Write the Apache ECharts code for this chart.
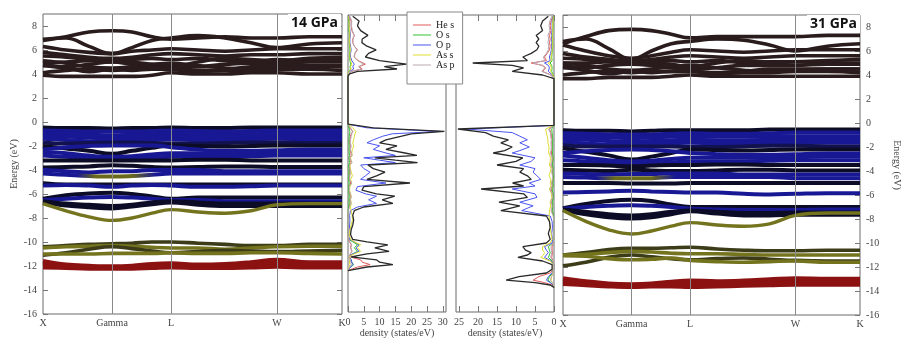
<!DOCTYPE html>
<html>
<head>
<meta charset="utf-8">
<script src="https://cdn.jsdelivr.net/npm/echarts@6/dist/echarts.min.js"></script>
<style>
  html, body { margin: 0; padding: 0; background: #fff; }
  #main { width: 901px; height: 338px; }
</style>
</head>
<body>
<div id="main"></div>
<script>
// k-path: high symmetry points and the sample points every band is given on
const kPos = [0, 0.69, 1.28, 2.34, 2.99]
const kLabels = ['X', 'Gamma', 'L', 'W', 'K']
const kGrid = [0, 0.23, 0.46, 0.69, 0.89, 1.09, 1.28, 1.55, 1.82, 2.08, 2.34, 2.66, 2.99]

// ---- 14 GPa bands (eV) ----
const cond14 = [
  [6.8, 7.1, 7.5, 7.6, 7.5, 7.1, 6.9, 7.0, 7.1, 7.0, 7.0, 7.1, 7.1],
  [6.9, 7.0, 6.3, 5.7, 6.2, 6.8, 7.0, 7.2, 7.0, 6.6, 6.2, 6.5, 6.6],
  [6.3, 6.0, 5.8, 5.7, 5.9, 6.0, 6.1, 6.0, 5.9, 6.0, 6.1, 6.1, 6.1],
  [5.8, 5.6, 5.4, 5.3, 5.4, 5.6, 5.7, 5.6, 5.5, 5.6, 5.6, 5.7, 5.7],
  [5.5, 5.4, 5.2, 5.0, 5.2, 5.3, 5.2, 5.3, 5.1, 5.0, 5.2, 5.1, 5.1],
  [4.9, 5.0, 5.1, 5.1, 5.0, 4.8, 4.6, 5.0, 5.3, 5.2, 5.1, 5.3, 5.4],
  [4.8, 4.6, 4.8, 5.0, 4.8, 4.6, 4.5, 4.6, 4.8, 4.9, 4.9, 5.0, 5.0],
  [5.1, 4.9, 4.6, 4.5, 4.6, 4.8, 4.9, 4.7, 4.5, 4.4, 4.5, 4.6, 4.6],
  [4.7, 4.5, 4.2, 4.4, 4.3, 4.4, 4.4, 4.3, 4.4, 4.6, 4.7, 4.7, 4.7],
  [4.1, 4.3, 4.4, 4.3, 4.4, 4.5, 4.4, 4.2, 4.3, 4.3, 4.4, 4.4, 4.3],
  [3.9, 3.8, 3.8, 3.8, 3.8, 3.9, 4.1, 4.0, 4.0, 4.1, 4.1, 4.0, 4.0]
]
const val14 = [
  [-0.45, -0.5, -0.5, -0.55, -0.5, -0.5, -0.45, -0.5, -0.5, -0.45, -0.45, -0.45, -0.45],
  [-0.7, -0.75, -0.8, -0.8, -0.8, -0.75, -0.7, -0.75, -0.8, -0.75, -0.7, -0.7, -0.7],
  [-0.9, -1.0, -1.05, -1.1, -1.05, -1.0, -0.95, -1.0, -1.0, -1.0, -0.95, -0.95, -0.95],
  [-1.15, -1.2, -1.3, -1.35, -1.3, -1.25, -1.2, -1.25, -1.25, -1.2, -1.2, -1.2, -1.2],
  [-1.4, -1.5, -1.6, -1.6, -1.55, -1.5, -1.45, -1.5, -1.5, -1.45, -1.4, -1.45, -1.45],
  [-1.7, -1.8, -1.75, -1.7, -1.7, -1.75, -1.8, -1.8, -1.75, -1.7, -1.7, -1.75, -1.75],
  [-2.0, -2.2, -2.4, -2.65, -2.4, -2.15, -1.95, -2.0, -2.05, -2.0, -1.95, -1.95, -1.95],
  [-2.3, -2.1, -2.0, -1.95, -1.95, -1.95, -2.1, -2.3, -2.4, -2.4, -2.35, -2.3, -2.3],
  [-2.5, -2.6, -2.8, -2.9, -2.85, -2.7, -2.6, -2.6, -2.6, -2.6, -2.55, -2.5, -2.5],
  [-2.8, -2.9, -3.0, -3.1, -3.05, -2.95, -2.9, -2.85, -2.9, -2.85, -2.8, -2.8, -2.8],
  [-3.2, -3.2, -3.2, -3.2, -3.2, -3.2, -3.2, -3.15, -3.15, -3.2, -3.2, -3.2, -3.2],
  [-3.8, -3.75, -3.7, -3.6, -3.65, -3.75, -3.8, -3.75, -3.7, -3.7, -3.75, -3.75, -3.75],
  [-4.0, -4.1, -4.2, -4.1, -4.1, -4.0, -4.0, -4.0, -4.1, -4.1, -4.1, -4.1, -4.1],
  [-4.3, -4.4, -4.5, -4.55, -4.5, -4.4, -4.3, -4.3, -4.3, -4.3, -4.3, -4.3, -4.3],
  [-5.1, -5.2, -5.2, -5.2, -5.2, -5.2, -5.2, -5.2, -5.2, -5.2, -5.2, -5.2, -5.2],
  [-5.3, -5.25, -5.3, -5.4, -5.3, -5.25, -5.3, -5.4, -5.4, -5.35, -5.3, -5.3, -5.3],
  [-6.4, -6.1, -5.95, -5.9, -6.0, -6.2, -6.4, -6.3, -6.3, -6.3, -6.3, -6.3, -6.3],
  [-6.5, -6.4, -6.3, -6.25, -6.3, -6.4, -6.5, -6.5, -6.6, -6.6, -6.6, -6.6, -6.6],
  [-6.6, -6.8, -6.9, -7.0, -6.9, -6.7, -6.6, -6.7, -6.8, -6.8, -6.8, -6.8, -6.8],
  [-6.7, -6.95, -7.1, -7.2, -7.05, -6.85, -6.7, -6.9, -7.0, -7.0, -7.0, -7.0, -7.0]
]
const asBand14 = [
  [-6.8, -7.4, -7.9, -8.2, -8.0, -7.6, -7.3, -7.5, -7.6, -7.4, -6.9, -6.8, -6.8]
]
const deep14 = [
  [-10.4, -10.3, -10.2, -10.15, -10.1, -10.0, -10.0, -10.1, -10.2, -10.3, -10.3, -10.2, -10.2],
  [-10.5, -10.4, -10.35, -10.3, -10.35, -10.45, -10.5, -10.5, -10.6, -10.5, -10.4, -10.35, -10.35],
  [-11.1, -10.9, -10.6, -10.4, -10.55, -10.75, -10.9, -10.8, -10.7, -10.75, -10.8, -10.75, -10.7],
  [-11.0, -11.0, -11.0, -10.95, -10.95, -10.95, -10.9, -10.95, -10.95, -10.9, -10.9, -10.95, -11.0]
]
const heBand14 = [
  [-11.6, -11.9, -12.0, -12.05, -12.0, -11.85, -11.8, -11.9, -11.85, -11.7, -11.5, -11.7, -11.7],
  [-11.8, -12.0, -12.1, -12.15, -12.1, -12.05, -12.0, -12.05, -12.0, -11.9, -11.8, -11.9, -11.9],
  [-12.1, -12.15, -12.2, -12.2, -12.2, -12.15, -12.1, -12.15, -12.15, -12.1, -12.05, -12.1, -12.1]
]

// ---- 31 GPa bands (eV) ----
const cond31 = [
  [6.6, 7.2, 7.7, 7.8, 7.7, 7.4, 7.1, 7.2, 7.2, 7.2, 7.2, 7.3, 7.3],
  [6.8, 7.0, 6.2, 5.3, 6.0, 6.6, 6.8, 7.0, 6.9, 6.5, 6.0, 6.4, 6.6],
  [6.5, 6.0, 5.6, 5.4, 5.6, 5.9, 6.1, 6.0, 5.9, 6.0, 6.1, 6.1, 6.1],
  [5.8, 5.5, 5.3, 5.2, 5.3, 5.5, 5.6, 5.5, 5.4, 5.5, 5.6, 5.6, 5.6],
  [5.4, 5.3, 5.1, 4.9, 5.1, 5.2, 5.1, 5.2, 5.0, 4.9, 5.1, 5.0, 5.0],
  [5.0, 5.0, 5.1, 5.1, 5.0, 4.9, 4.7, 5.0, 5.2, 5.1, 5.1, 5.2, 5.3],
  [4.8, 4.6, 4.8, 4.9, 4.8, 4.6, 4.5, 4.6, 4.8, 4.8, 4.8, 4.9, 4.9],
  [5.0, 4.8, 4.5, 4.4, 4.5, 4.7, 4.8, 4.6, 4.4, 4.3, 4.4, 4.5, 4.5],
  [4.6, 4.4, 4.1, 4.3, 4.2, 4.3, 4.3, 4.2, 4.3, 4.5, 4.5, 4.5, 4.5],
  [4.0, 4.2, 4.3, 4.2, 4.3, 4.3, 4.3, 4.1, 4.2, 4.2, 4.3, 4.3, 4.2],
  [3.7, 3.7, 3.8, 3.8, 3.8, 3.9, 4.0, 3.9, 3.9, 3.9, 3.9, 3.9, 3.9]
]
const val31 = [
  [-0.6, -0.65, -0.65, -0.7, -0.65, -0.6, -0.6, -0.6, -0.6, -0.55, -0.55, -0.55, -0.55],
  [-0.85, -0.9, -0.95, -0.95, -0.95, -0.9, -0.85, -0.9, -0.9, -0.85, -0.8, -0.8, -0.8],
  [-1.1, -1.15, -1.2, -1.25, -1.2, -1.15, -1.1, -1.15, -1.15, -1.1, -1.1, -1.1, -1.1],
  [-1.35, -1.4, -1.5, -1.55, -1.5, -1.45, -1.4, -1.45, -1.45, -1.4, -1.35, -1.4, -1.4],
  [-1.6, -1.7, -1.8, -1.8, -1.75, -1.7, -1.65, -1.7, -1.7, -1.65, -1.6, -1.65, -1.65],
  [-1.85, -1.95, -1.95, -1.95, -1.95, -1.95, -2.0, -2.0, -1.95, -1.9, -1.9, -1.95, -1.95],
  [-2.1, -2.4, -2.7, -3.05, -2.8, -2.5, -2.2, -2.25, -2.3, -2.25, -2.2, -2.2, -2.2],
  [-2.5, -2.35, -2.25, -2.2, -2.25, -2.35, -2.5, -2.6, -2.65, -2.65, -2.6, -2.55, -2.55],
  [-2.7, -2.9, -3.1, -3.2, -3.15, -3.0, -2.9, -2.9, -2.9, -2.9, -2.85, -2.8, -2.8],
  [-3.1, -3.2, -3.35, -3.45, -3.4, -3.3, -3.2, -3.2, -3.2, -3.15, -3.1, -3.1, -3.1],
  [-3.5, -3.5, -3.55, -3.6, -3.55, -3.5, -3.5, -3.45, -3.45, -3.5, -3.5, -3.5, -3.5],
  [-3.9, -3.95, -4.0, -3.9, -3.95, -4.0, -4.0, -3.95, -3.9, -3.9, -3.95, -3.95, -3.95],
  [-4.2, -4.25, -4.3, -4.25, -4.25, -4.2, -4.2, -4.2, -4.3, -4.3, -4.3, -4.3, -4.3],
  [-4.5, -4.55, -4.6, -4.6, -4.6, -4.5, -4.5, -4.5, -4.5, -4.5, -4.6, -4.6, -4.6],
  [-5.0, -5.0, -5.0, -5.05, -5.05, -5.05, -5.0, -5.0, -5.0, -5.0, -5.0, -5.0, -5.0],
  [-5.8, -5.75, -5.7, -5.65, -5.7, -5.75, -5.8, -5.8, -5.9, -5.95, -5.9, -5.85, -5.85],
  [-7.1, -6.75, -6.5, -6.4, -6.5, -6.8, -7.0, -7.0, -7.0, -7.0, -7.0, -7.0, -7.0],
  [-7.15, -7.0, -6.9, -6.85, -6.9, -7.0, -7.15, -7.2, -7.25, -7.25, -7.25, -7.2, -7.2],
  [-7.2, -7.4, -7.6, -7.7, -7.6, -7.4, -7.3, -7.4, -7.5, -7.5, -7.45, -7.45, -7.45],
  [-7.25, -7.6, -7.85, -7.95, -7.85, -7.6, -7.35, -7.55, -7.7, -7.7, -7.65, -7.65, -7.65]
]
const asBand31 = [
  [-7.3, -8.2, -8.9, -9.25, -9.0, -8.6, -8.3, -8.5, -8.6, -8.4, -7.7, -7.5, -7.5]
]
const deep31 = [
  [-11.0, -10.8, -10.55, -10.45, -10.45, -10.4, -10.35, -10.5, -10.6, -10.65, -10.65, -10.6, -10.6],
  [-11.0, -10.95, -10.8, -10.7, -10.75, -10.85, -10.9, -10.9, -10.95, -11.0, -11.0, -11.0, -11.0],
  [-11.9, -11.6, -11.2, -11.0, -11.15, -11.3, -11.4, -11.3, -11.25, -11.35, -11.45, -11.5, -11.5],
  [-11.05, -11.1, -11.3, -11.4, -11.35, -11.25, -11.45, -11.55, -11.6, -11.55, -11.5, -11.6, -11.6]
]
const heBand31 = [
  [-12.95, -13.2, -13.4, -13.45, -13.4, -13.25, -13.15, -13.2, -13.15, -13.05, -12.95, -13.0, -13.0],
  [-13.2, -13.4, -13.55, -13.6, -13.55, -13.5, -13.5, -13.45, -13.4, -13.3, -13.2, -13.3, -13.3],
  [-13.4, -13.5, -13.6, -13.65, -13.6, -13.6, -13.65, -13.6, -13.55, -13.5, -13.45, -13.45, -13.45]
]

// ---- DOS, 14 GPa (states/eV) ----
const dosE14 = [8.8, 8.4, 8.0, 7.6, 7.2, 6.9, 6.6, 6.3, 6.0, 5.7, 5.4, 5.1, 4.8, 4.6, 4.4, 4.2, 4.0, 3.8,
  -0.2, -0.5, -0.8, -1.0, -1.2, -1.5, -1.75, -2.0, -2.3, -2.6, -2.8, -3.0, -3.2, -3.4, -3.6, -3.9, -4.2, -4.5,
  -4.8, -5.1, -5.4, -5.7, -6.0, -6.2, -6.5, -6.8, -7.1, -7.4, -7.8, -8.2, -8.6, -9.0, -9.4, -9.8,
  -10.0, -10.25, -10.5, -10.8, -11.0, -11.25, -11.5, -11.7, -11.9, -12.1, -12.4]
const total14 = [1.5, 3.5, 3, 4, 6.3, 4.5, 4.4, 6, 8.9, 6.5, 5.5, 10, 18.5, 11.5, 15.5, 3, 0.5, 0,
  0, 8, 30.5, 20, 17, 12, 10, 15.5, 12, 18, 21.8, 8.5, 15, 22, 6.3, 8, 11.7, 9,
  6, 19.6, 5, 4.4, 9, 14.8, 10.8, 14.2, 5, 2, 1.5, 1.8, 1.5, 1, 0.8, 1.5,
  6, 12.6, 8.5, 13, 6, 1, 9, 10, 14.2, 6, 0]
const heS14 = [0.3, 1, 1, 1.2, 2, 1.5, 1.5, 2, 3, 2.2, 2, 3.2, 5.5, 3.5, 4.5, 1, 0.2, 0,
  0, 0.5, 1.5, 1, 0.8, 0.6, 0.5, 0.8, 0.6, 0.9, 1, 0.5, 0.7, 1, 0.4, 0.5, 0.6, 0.5,
  0.4, 0.9, 0.3, 0.3, 0.5, 0.8, 0.6, 0.7, 0.3, 0.1, 0.1, 0.1, 0.1, 0.1, 0.1, 0.1,
  0.5, 1, 0.8, 1.2, 0.8, 0.5, 4, 4.5, 7, 3, 0]
const oS14 = [0.1, 0.3, 0.3, 0.3, 0.5, 0.4, 0.4, 0.5, 0.6, 0.5, 0.5, 0.6, 0.9, 0.6, 0.8, 0.2, 0.1, 0,
  0, 0.3, 0.6, 0.5, 0.4, 0.3, 0.3, 0.4, 0.3, 0.4, 0.5, 0.3, 0.4, 0.5, 0.2, 0.3, 0.3, 0.3,
  0.2, 0.4, 0.2, 0.2, 0.3, 0.4, 0.3, 0.4, 0.2, 0.1, 0.1, 0.1, 0.1, 0.1, 0.1, 0.2,
  1.5, 3, 2, 3, 1.5, 0.3, 1, 1.2, 1.8, 0.8, 0]
const oP14 = [0.3, 0.5, 0.5, 0.6, 0.8, 0.6, 0.6, 0.8, 1, 0.8, 0.8, 1.2, 2, 1.5, 1.8, 0.5, 0.1, 0,
  0, 6, 29, 14, 11, 8, 6, 10, 8, 12, 15, 5, 10, 15, 4, 5, 7, 5.5,
  4, 12, 3, 2.5, 5.5, 9, 6.5, 9, 3, 0.8, 0.5, 0.6, 0.5, 0.4, 0.3, 0.5,
  2, 3.5, 2.5, 3.5, 1.5, 0.3, 1, 1.2, 1.5, 0.8, 0]
const asS14 = [0.2, 0.4, 0.4, 0.5, 0.6, 0.5, 0.5, 0.6, 0.8, 0.6, 0.6, 0.8, 1.2, 0.8, 1, 0.3, 0.1, 0,
  0, 1.5, 2.5, 2.2, 2, 1.8, 1.5, 1.8, 1.4, 1.2, 1.3, 0.8, 1, 1.2, 0.6, 0.8, 1, 1.4,
  0.8, 1.2, 0.6, 0.5, 0.8, 1, 0.8, 1, 0.8, 1, 1.3, 1.4, 1, 0.6, 0.4, 0.8,
  2, 4, 3, 4, 2, 0.3, 0.5, 0.5, 0.6, 0.3, 0]
const asP14 = [0.6, 1.2, 1.1, 1.4, 2, 1.6, 1.5, 2, 2.8, 2.1, 1.9, 3, 5, 3.3, 4.2, 1, 0.2, 0,
  0, 0.8, 1.5, 1.2, 1, 0.8, 0.7, 1, 0.8, 1.1, 1.3, 0.6, 0.9, 1.3, 0.5, 0.6, 0.8, 0.6,
  0.5, 1.2, 0.4, 0.4, 0.7, 1, 0.8, 1, 0.4, 0.2, 0.2, 0.2, 0.2, 0.1, 0.1, 0.2,
  0.6, 1.2, 0.9, 1.3, 0.7, 0.2, 0.7, 0.8, 1.1, 0.5, 0]

// ---- DOS, 31 GPa (states/eV) ----
const dosE31 = [8.8, 8.4, 8.0, 7.6, 7.2, 6.9, 6.6, 6.3, 6.0, 5.7, 5.4, 5.1, 4.9, 4.7, 4.5, 4.2, 3.9, 3.6,
  -0.3, -0.6, -0.9, -1.2, -1.5, -1.75, -2.1, -2.4, -2.6, -3.0, -3.3, -3.6, -3.9, -4.2, -4.5, -4.8,
  -5.1, -5.35, -5.6, -6.0, -6.3, -6.7, -7.0, -7.4, -7.85, -8.3, -8.8, -9.3, -9.8,
  -10.1, -10.4, -10.7, -10.9, -11.1, -11.3, -11.6, -11.9, -12.3, -12.6, -12.9, -13.2, -13.4, -13.6, -13.8]
const total31 = [1.5, 3, 3.5, 3, 4.7, 4, 4.7, 4, 4.5, 6, 8.2, 7, 21.4, 11, 8, 11, 3, 0,
  0, 25.3, 18, 16, 12, 14, 11, 13, 16, 8.2, 10, 15, 8, 9, 7, 6,
  10.9, 8, 19.2, 8, 7, 14.5, 9, 14, 2, 1.2, 1, 1.5, 1,
  2, 8.2, 7.5, 6, 7, 9.5, 3, 0.5, 0.5, 2, 9.2, 12.6, 5, 1, 0]
const heS31 = [0.3, 0.8, 1, 0.8, 1.2, 1, 1.2, 1, 1.2, 1.8, 2.5, 2, 6, 3, 2.2, 3, 0.8, 0,
  0, 1.2, 0.8, 0.7, 0.5, 0.6, 0.5, 0.6, 0.7, 0.4, 0.4, 0.6, 0.4, 0.4, 0.3, 0.3,
  0.5, 0.4, 0.8, 0.4, 0.3, 0.6, 0.4, 0.6, 0.1, 0.1, 0.1, 0.1, 0.1,
  0.2, 0.5, 0.5, 0.4, 0.5, 0.6, 0.3, 0.1, 0.1, 1, 4, 5.5, 2.5, 0.5, 0]
const oS31 = [0.1, 0.3, 0.3, 0.3, 0.4, 0.3, 0.4, 0.3, 0.4, 0.5, 0.6, 0.5, 1, 0.6, 0.5, 0.6, 0.2, 0,
  0, 0.6, 0.5, 0.4, 0.3, 0.4, 0.3, 0.4, 0.4, 0.2, 0.3, 0.4, 0.2, 0.3, 0.2, 0.2,
  0.3, 0.2, 0.5, 0.2, 0.2, 0.4, 0.3, 0.4, 0.1, 0.1, 0.1, 0.1, 0.1,
  0.3, 1.5, 1.2, 1, 1.2, 1.5, 0.5, 0.1, 0.1, 0.3, 1.2, 1.6, 0.8, 0.2, 0]
const oP31 = [0.3, 0.5, 0.5, 0.5, 0.7, 0.6, 0.7, 0.6, 0.7, 0.9, 1.2, 1, 2.5, 1.5, 1.2, 1.5, 0.4, 0,
  0, 23, 11, 9, 7, 9, 6.5, 9, 11, 5, 6, 9, 5, 5.5, 4.5, 3.5,
  6.5, 5, 11, 5, 4.5, 9, 5.5, 8.5, 1, 0.5, 0.4, 0.6, 0.4,
  0.5, 2.5, 2, 1.5, 2, 2.5, 0.8, 0.1, 0.1, 0.5, 1.5, 2, 1, 0.2, 0]
const asS31 = [0.2, 0.3, 0.4, 0.3, 0.5, 0.4, 0.5, 0.4, 0.5, 0.6, 0.8, 0.7, 1.5, 0.9, 0.7, 0.9, 0.3, 0,
  0, 2.2, 2, 1.8, 1.6, 1.6, 1.3, 1.4, 1.4, 0.9, 1, 1.2, 0.8, 1, 1.3, 0.8,
  1, 0.8, 1.2, 0.7, 0.6, 1, 0.9, 1.2, 1.3, 1.2, 1, 0.8, 0.5,
  1, 3, 3, 2.5, 2.8, 3.5, 1, 0.2, 0.2, 0.3, 0.6, 0.8, 0.4, 0.1, 0]
const asP31 = [0.6, 1.1, 1.3, 1.1, 1.6, 1.4, 1.6, 1.4, 1.5, 2, 2.8, 2.4, 5.5, 3.2, 2.4, 3.2, 0.8, 0,
  0, 1.4, 1, 0.9, 0.7, 0.8, 0.7, 0.8, 1, 0.5, 0.6, 0.9, 0.5, 0.6, 0.4, 0.4,
  0.7, 0.5, 1.1, 0.5, 0.4, 0.9, 0.5, 0.8, 0.2, 0.1, 0.1, 0.1, 0.1,
  0.2, 0.8, 0.7, 0.6, 0.7, 0.9, 0.3, 0.1, 0.1, 0.2, 0.7, 1, 0.4, 0.1, 0]

const dosNames = ['He s', 'O s', 'O p', 'As s', 'As p']

// ---- styling ----
const COND = '#2a1c1c'
const NAVY = '#181894'
const DARK = '#0c0c26'
const OLIVE = '#74741e'
const DOLIVE = '#3c3c18'
const RED = '#8c1212'
// olive only around Gamma, blue elsewhere (gradient along k)
const GAMMA_OLIVE = new echarts.graphic.LinearGradient(0, 0, 1, 0, [
  { offset: 0, color: NAVY }, { offset: 0.12, color: NAVY },
  { offset: 0.18, color: '#6a6a1c' }, { offset: 0.3, color: '#6a6a1c' },
  { offset: 0.38, color: NAVY }, { offset: 1, color: NAVY }
])
const valColors = [DARK, NAVY, NAVY, NAVY, NAVY, '#121250', DARK, NAVY, NAVY, NAVY,
  DARK, DARK, NAVY, GAMMA_OLIVE, DARK, NAVY, DARK, NAVY, DARK, DARK]
const deepColors = [DOLIVE, OLIVE, DOLIVE, OLIVE]
const dosColors = { 'He s': '#e05a5a', 'O s': '#2fc42f', 'O p': '#4a55f0', 'As s': '#e0dc30', 'As p': '#b8a8b0' }
const FONT = 'Liberation Serif'

const bandSeries = (bands, colors, xi, yi, width) => bands.map((b, i) => ({
  type: 'line',
  xAxisIndex: xi,
  yAxisIndex: yi,
  data: kGrid.map((k, j) => [k, b[j]]),
  smooth: 0.4,
  showSymbol: false,
  silent: true,
  lineStyle: { color: Array.isArray(colors) ? colors[i % colors.length] : colors, width: width }
}))

const panelSeries = (cond, val, asb, deep, heb, xi, yi) => {
  const s = [{
    type: 'line', xAxisIndex: xi, yAxisIndex: yi, data: [], silent: true,
    markLine: {
      silent: true, symbol: 'none', label: { show: false },
      lineStyle: { color: '#8a8a8a', width: 1, type: 'solid' },
      data: kPos.slice(1, 4).map(k => ({ xAxis: k }))
    }
  }]
  return s.concat(
    bandSeries(cond, COND, xi, yi, 3.6),
    bandSeries(val, valColors, xi, yi, 4),
    bandSeries(asb, OLIVE, xi, yi, 3.4),
    bandSeries(deep, deepColors, xi, yi, 3.6),
    bandSeries(heb, RED, xi, yi, 4.5)
  )
}

const dosSeries = (E, comps, total, xi, yi) => {
  const out = comps.map((vals, i) => ({
    name: dosNames[i],
    type: 'line', xAxisIndex: xi, yAxisIndex: yi,
    data: E.map((e, j) => [vals[j], e]),
    showSymbol: false, silent: true,
    color: dosColors[dosNames[i]],
    itemStyle: { color: dosColors[dosNames[i]] },
    lineStyle: { color: dosColors[dosNames[i]], width: 1 }
  }))
  out.push({
    name: 'Total',
    type: 'line', xAxisIndex: xi, yAxisIndex: yi,
    data: E.map((e, j) => [total[j], e]),
    showSymbol: false, silent: true,
    lineStyle: { color: '#2a2a2a', width: 1.3 }
  })
  return out
}

const labelStyle = { fontFamily: FONT, fontSize: 10, color: '#444' }
const kLabelAt = v => {
  let best = 0
  kPos.forEach((p, i) => { if (Math.abs(p - v) < Math.abs(kPos[best] - v)) best = i })
  return kLabels[best]
}
const kAxis = grid => ({
  type: 'value', gridIndex: grid, position: 'bottom', min: 0, max: 2.99,
  axisLine: { show: false, onZero: false }, axisTick: { show: false }, splitLine: { show: false },
  axisLabel: { ...labelStyle, margin: 4, customValues: kPos, formatter: kLabelAt }
})
const eAxis = (grid, pos, labels, ticks) => ({
  type: 'value', gridIndex: grid, position: pos, min: -16, max: 9, interval: 2,
  axisLine: { show: false, onZero: false }, splitLine: { show: false },
  axisTick: { show: ticks, inside: true, length: 5, lineStyle: { color: '#777' } },
  axisLabel: { show: labels, ...labelStyle, margin: 6, showMaxLabel: false },
  nameMoveOverlap: false
})
const dosE = grid => ({
  type: 'value', gridIndex: grid, min: -15.85, max: 8.9,
  axisLine: { show: false, onZero: false }, axisTick: { show: false }, axisLabel: { show: false }, splitLine: { show: false }
})
const dosX = (grid, pos, max, inverse, labels) => ({
  type: 'value', gridIndex: grid, position: pos, min: 0, max: max, interval: 5, inverse: inverse,
  axisLine: { show: false, onZero: false }, splitLine: { show: false },
  axisTick: { show: true, inside: true, length: 6, lineStyle: { color: '#777' } },
  axisLabel: { show: labels, ...labelStyle, margin: 5, showMaxLabel: false },
  name: labels ? 'density (states/eV)' : '',
  nameLocation: 'middle', nameGap: 16, nameMoveOverlap: false, nameTextStyle: labelStyle
})

const chart = echarts.init(document.getElementById('main'), null, { renderer: 'canvas' })
const box = { show: true, borderColor: '#6a6a6a', borderWidth: 1, backgroundColor: 'transparent', outerBoundsMode: 'none', containLabel: false }

chart.setOption({
  animation: false,
  backgroundColor: '#fff',
  title: [
    { text: '14 GPa', left: 288, top: 14, padding: [2, 3], backgroundColor: '#fff',
      textStyle: { fontFamily: 'Open Sans', fontWeight: 'bold', fontSize: 14, color: '#111' } },
    { text: '31 GPa', left: 807, top: 15, padding: [2, 3], backgroundColor: '#fff',
      textStyle: { fontFamily: 'Open Sans', fontWeight: 'bold', fontSize: 14, color: '#111' } }
  ],
  legend: {
    data: dosNames.map(n => ({ name: n, itemStyle: { color: dosColors[n] } })),
    orient: 'vertical', left: 407, top: 12,
    icon: 'rect', itemWidth: 18, itemHeight: 1, itemGap: 0,
    padding: [8, 8, 14, 6], backgroundColor: '#fff', borderColor: '#888', borderWidth: 1,
    textStyle: { fontFamily: FONT, fontSize: 10, lineHeight: 9.5, color: '#222' },
    selectedMode: false
  },
  grid: [
    { left: 43, top: 14, width: 299, height: 300, ...box },
    { left: 348, top: 15, width: 98, height: 297, ...box },
    { left: 456, top: 15, width: 98, height: 297, ...box },
    { left: 563, top: 15, width: 297, height: 300, ...box }
  ],
  xAxis: [
    kAxis(0),
    dosX(1, 'bottom', 31, false, true),
    dosX(1, 'top', 31, false, false),
    dosX(2, 'bottom', 25.8, true, true),
    dosX(2, 'top', 25.8, true, false),
    kAxis(3)
  ],
  yAxis: [
    { ...eAxis(0, 'left', true, true), name: 'Energy (eV)', nameLocation: 'middle', nameGap: 24, nameRotate: 90, nameTextStyle: labelStyle },
    eAxis(0, 'right', false, true),
    dosE(1),
    dosE(2),
    { ...eAxis(3, 'right', true, true), name: 'Energy (eV)', nameLocation: 'middle', nameGap: 32, nameRotate: -90, nameTextStyle: labelStyle },
    eAxis(3, 'left', false, true)
  ],
  series: [].concat(
    panelSeries(cond14, val14, asBand14, deep14, heBand14, 0, 0),
    dosSeries(dosE14, [heS14, oS14, oP14, asS14, asP14], total14, 1, 2),
    dosSeries(dosE31, [heS31, oS31, oP31, asS31, asP31], total31, 3, 3),
    panelSeries(cond31, val31, asBand31, deep31, heBand31, 5, 4)
  )
})
</script>
</body>
</html>
